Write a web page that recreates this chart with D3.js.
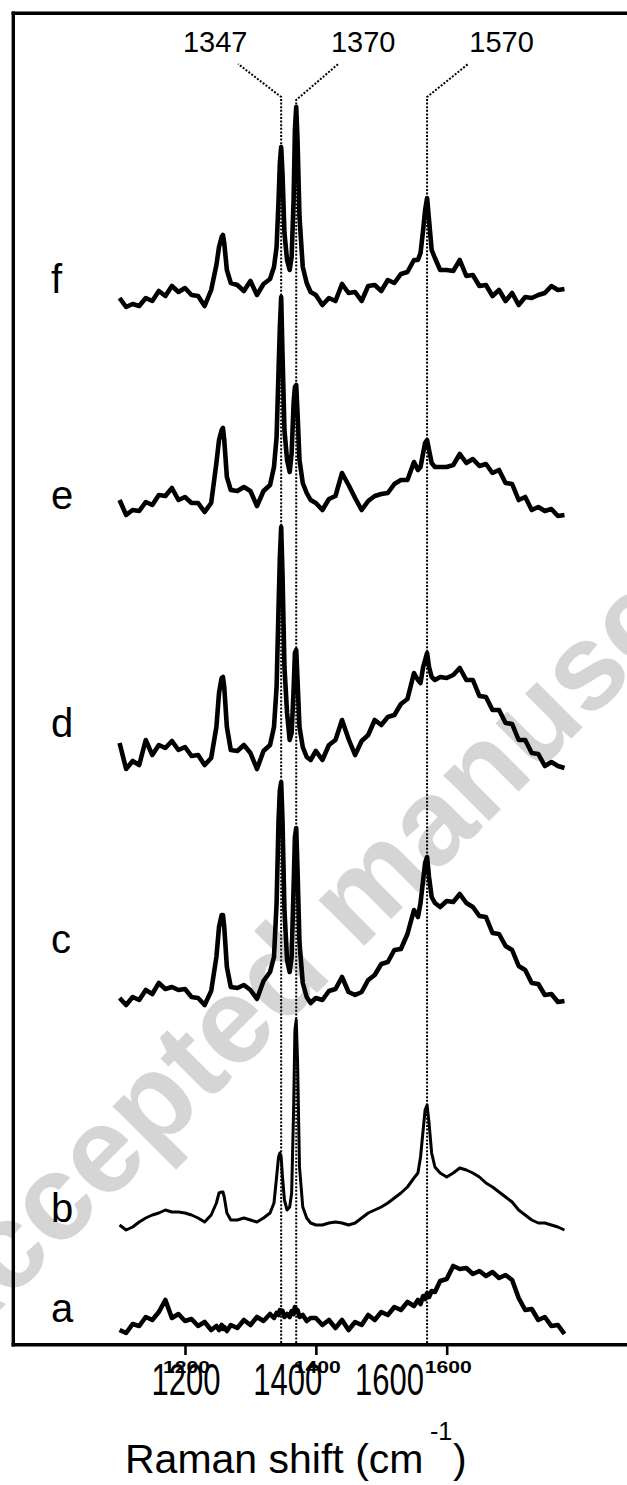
<!DOCTYPE html>
<html>
<head>
<meta charset="utf-8">
<script src="https://cdn.jsdelivr.net/npm/d3@7"></script>
<style>
  html, body { margin: 0; padding: 0; background: #fff; }
  svg { display: block; }
  text { font-family: "Liberation Sans", Arial, sans-serif; }
</style>
</head>
<body>
<div id="chart"></div>
<script>
// Raman shift sample positions (cm^-1)
const shift = [1100,1110,1120,1130,1140,1150,1160,1170,1180,1190,1200,1210,1220,1230,1240,
  1248,1252,1256,1258,1260,1264,1270,
  1280,1290,1300,1310,1320,1330,
  1336,1340,1343,1345,1347,1349,1352,1356,1360,1363,1366,1368,1370,1372,1375,1380,1386,1392,
  1400,1410,1420,1430,1440,1450,1460,1470,1480,1490,1500,1510,1520,1530,1540,1550,
  1556,1560,1564,1567,1570,1573,1577,1582,1590,
  1600,1610,1620,1630,1640,1650,1660,1670,1680,1690,1700,1710,1720,1730,1740,1750,1760,1770,1780];

// Intensities (arbitrary units) of each spectrum, above its own offset
const specA = [10,7,16,14,23,20,28,40,22,26,19,21,14,18,10,
  14,10,15,11,13,9,15,
  12,20,15,23,19,26,
  22,27,25,30,28,29,23,26,23,29,26,33,30,30,23,25,19,22,
  22,15,20,12,20,10,18,15,25,20,28,25,33,30,38,34,
  40,36,44,41,47,43,49,48,59,
  61,74,71,72,66,69,64,68,62,65,60,42,30,31,20,23,14,15,6];
const specB = [7,2,5,10,14,17,19,22,20,20,19,17,14,10,17,
  29,39,40,40,35,19,12,
  12,14,12,10,14,19,
  29,55,75,79,75,55,32,22,25,39,122,202,212,172,65,25,14,9,
  7,7,9,10,9,7,9,14,19,22,25,29,34,39,45,54,
  59,75,102,122,127,109,79,65,59,
  55,59,64,62,59,55,49,45,40,35,30,22,17,12,9,9,7,5,2];
const specC = [12,5,13,10,20,16,27,21,23,20,21,13,12,5,19,
  53,83,95,95,83,43,23,
  22,25,20,11,29,38,
  53,107,190,220,228,190,100,50,38,53,123,173,182,140,67,27,13,7,
  12,10,19,21,33,18,15,18,30,35,46,48,60,61,76,100,
  93,107,130,147,153,133,113,107,103,
  109,108,116,107,103,94,93,77,76,64,60,44,40,27,26,15,16,8,9];
const specD = [32,6,14,10,35,20,30,27,34,25,28,19,20,10,17,
  48,82,97,98,88,48,25,
  24,30,22,6,24,30,
  48,88,168,218,248,202,108,62,35,42,85,122,125,95,48,28,18,15,
  24,15,30,35,55,36,20,34,40,55,50,58,60,71,76,102,
  95,92,108,115,122,108,98,95,98,
  97,100,107,95,95,79,78,65,65,52,51,35,35,22,21,9,13,9,7];
const specE = [20,5,10,9,18,15,25,24,32,20,23,17,17,8,17,
  57,80,90,92,80,43,30,
  29,33,29,14,29,35,
  53,83,150,193,223,167,90,60,48,67,117,133,135,107,60,37,27,20,
  17,10,21,24,47,35,22,10,19,24,26,27,36,40,40,58,
  50,53,67,77,80,70,57,53,53,
  53,55,66,57,61,54,56,47,50,37,36,20,23,10,13,9,11,4,5];
const specF = [12,3,6,4,12,9,19,14,24,18,22,15,14,4,20,
  45,63,73,75,67,40,27,
  25,19,29,15,26,31,
  43,63,110,147,163,137,77,50,40,53,110,180,203,170,93,43,27,18,
  15,5,12,9,26,17,18,9,24,25,19,30,27,36,38,50,
  50,57,80,100,112,90,60,52,40,
  40,39,50,34,35,24,25,14,20,9,17,5,13,12,15,17,24,20,21];

const sampleNames = ["a","b","c","d","e","f"];
const sampleOffsets = [6,114,336,571,826,1036];
const peakMarks = [1347,1370,1570];
const tickValues = [1200,1400,1600];

const W = 627, H = 1485;
const svg = d3.select("#chart").append("svg").attr("width", W).attr("height", H);
svg.append("rect").attr("width", W).attr("height", H).attr("fill", "#fff");

// watermark
svg.append("text")
  .attr("transform", "translate(-54,1364) rotate(-45)")
  .attr("font-size", 122).attr("font-weight", "bold")
  .attr("fill", "#d5d5d5")
  .text("Accepted manuscript");

const x = d3.scaleLinear().domain([1200, 1600]).range([185, 446.7]);
const xAlt = d3.scaleLinear().domain([1200, 1600]).range([185.4, 389]);
const y = d3.scaleLinear().domain([0, 1333]).range([1346, 13]);

// frame
const frame = svg.append("g").attr("stroke", "#000").attr("stroke-width", 3.4);
frame.append("line").attr("x1", 11.6).attr("x2", W).attr("y1", 13.3).attr("y2", 13.3);
frame.append("line").attr("x1", 13.3).attr("x2", 13.3).attr("y1", 11.6).attr("y2", 1346.5);

// dotted peak guides
const guideLayout = {1347: {top: 97, dx: -43, lx: -66}, 1370: {top: 100, dx: 42, lx: 67}, 1570: {top: 97, dx: 41, lx: 74.5}};
const guides = svg.append("g");
peakMarks.forEach(p => {
  const g = guideLayout[p];
  const px = x(p);
  guides.append("polyline")
    .attr("points", `${px},1343 ${px},${g.top} ${px + g.dx},64`)
    .attr("fill", "none").attr("stroke", "#000").attr("stroke-width", 2)
    .attr("stroke-dasharray", "2,1.6");
  guides.append("text")
    .attr("x", px + g.lx).attr("y", 52)
    .attr("text-anchor", "middle").attr("font-size", 29)
    .text(p);
});

// spectra
const series = [specA, specB, specC, specD, specE, specF];
const line = d3.line().x(d => x(d[0])).y(d => y(d[1]));
series.forEach((vals, i) => {
  const pts = shift.map((s, k) => [s, vals[k] + sampleOffsets[i]]);
  svg.append("path")
    .attr("d", line(pts))
    .attr("fill", "none").attr("stroke", "#000")
    .attr("stroke-width", i === 1 ? 3 : 4.6)
    .attr("stroke-linejoin", "round");
});

// sample letters
const letterBaselines = [1322, 1222, 953, 737, 509, 293];
sampleNames.forEach((n, i) => {
  svg.append("text").attr("x", 51).attr("y", letterBaselines[i])
    .attr("font-size", 40).text(n);
});

// bottom axis line
svg.append("line").attr("x1", 11.6).attr("x2", W).attr("y1", 1344.8).attr("y2", 1344.8)
  .attr("stroke", "#000").attr("stroke-width", 3.6);

// bold tick axis
const ax = svg.append("g").attr("transform", "translate(0,1346)")
  .call(d3.axisBottom(x).tickValues(tickValues).tickSize(9).tickPadding(18).tickFormat(d3.format("d")));
ax.select(".domain").remove();
ax.selectAll(".tick line").attr("stroke", "#000").attr("stroke-width", 2.6);
ax.selectAll(".tick text")
  .attr("font-family", "'Liberation Sans', Arial, sans-serif")
  .attr("font-weight", "bold").attr("font-size", 16).attr("fill", "#000")
  .attr("dy", null).attr("y", 27).attr("dx", 1)
  .attr("textLength", 47).attr("lengthAdjust", "spacingAndGlyphs");

// large tick labels
const ax2 = svg.append("g").attr("transform", "translate(0,1346)")
  .call(d3.axisBottom(xAlt).tickValues(tickValues).tickSize(0).tickFormat(d3.format("d")));
ax2.select(".domain").remove();
ax2.selectAll(".tick line").remove();
ax2.selectAll(".tick text")
  .attr("font-family", "'Liberation Sans', Arial, sans-serif")
  .attr("font-size", 44).attr("fill", "#000")
  .attr("dy", null).attr("y", 49)
  .attr("textLength", 69).attr("lengthAdjust", "spacingAndGlyphs");

// axis title
const title = svg.append("g");
title.append("text").attr("x", 125).attr("y", 1473).attr("font-size", 41).text("Raman shift (cm");
title.append("text").attr("x", 430).attr("y", 1440).attr("font-size", 25).text("-1");
title.append("text").attr("x", 453).attr("y", 1473).attr("font-size", 41).text(")");
</script>
</body>
</html>
